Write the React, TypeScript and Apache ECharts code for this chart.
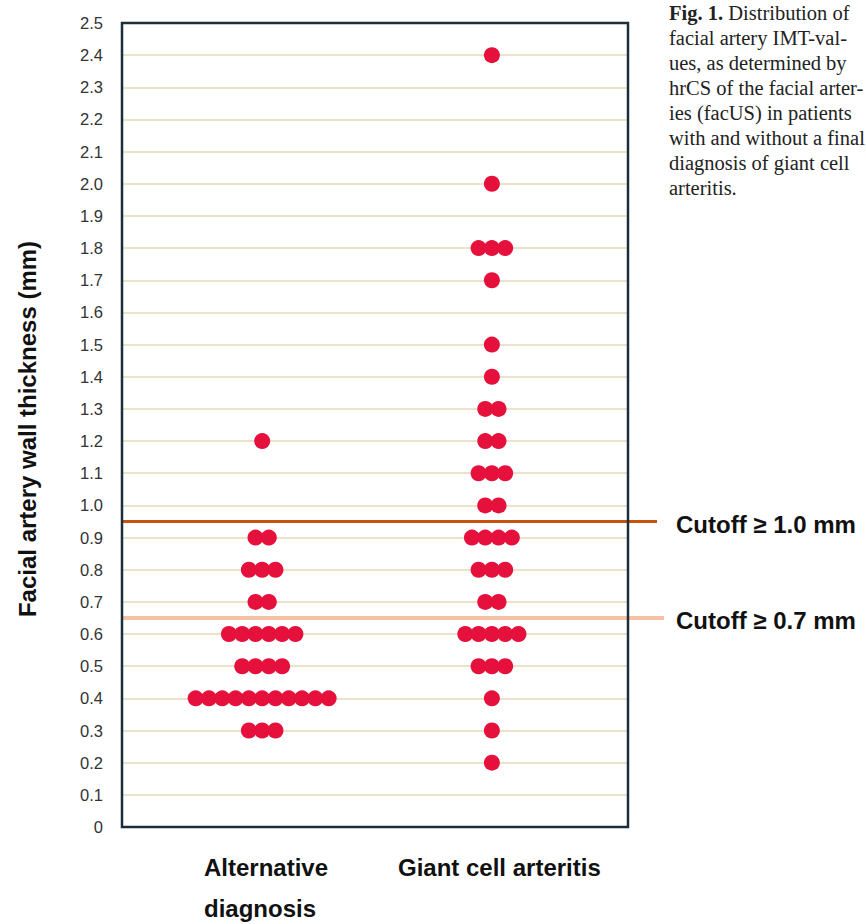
import React, { useEffect, useRef } from 'react';
import * as echarts from 'echarts';

// ---- data ----
const categories = ['Alternative\ndiagnosis', 'Giant cell arteritis'];
const alternativeLevels = [1.2, 0.9, 0.8, 0.7, 0.6, 0.5, 0.4, 0.3];
const alternativeCounts = [1, 2, 3, 2, 6, 4, 11, 3];
const gcaLevels = [2.4, 2.0, 1.8, 1.7, 1.5, 1.4, 1.3, 1.2, 1.1, 1.0, 0.9, 0.8, 0.7, 0.6, 0.5, 0.4, 0.3, 0.2];
const gcaCounts = [1, 1, 3, 1, 1, 1, 2, 2, 3, 2, 4, 3, 2, 5, 3, 1, 1, 1];
const cutoffValues = [0.95, 0.65];
const cutoffLabels = ['Cutoff ≥ 1.0 mm', 'Cutoff ≥ 0.7 mm'];
const yAxisTitle = 'Facial artery wall thickness (mm)';
const captionLines = [
  'Distribution of',
  'facial artery IMT-val-',
  'ues, as determined by',
  'hrCS of the facial arter-',
  'ies (facUS) in patients',
  'with and without a final',
  'diagnosis of giant cell',
  'arteritis.',
];

// ---- layout (not data) ----
const GRID = { left: 122, right: 238, top: 23, bottom: 97 };
const groupCenters = [0.277, 0.731]; // on hidden 0..1 x axis
const dotStep = 13.3 / 506; // horizontal spacing of stacked dots
const DOT = '#e5103b';
const SANS = '"Liberation Sans", Arial, sans-serif';
const SERIF = '"Liberation Serif", "Times New Roman", serif';

function swarm(levels: number[], counts: number[], center: number) {
  const pts: number[][] = [];
  levels.forEach((v, k) => {
    const n = counts[k];
    for (let i = 0; i < n; i++) {
      pts.push([center + (i - (n - 1) / 2) * dotStep, v]);
    }
  });
  return pts;
}

export default function App() {
  const ref = useRef<HTMLDivElement>(null);
  useEffect(() => {
    document.body.style.margin = '0';
    const chart = echarts.init(ref.current!, null, { renderer: 'svg' });
    const option: any = {
      animation: false,
      backgroundColor: '#ffffff',
      grid: { ...GRID, show: false },
      xAxis: { type: 'value', min: 0, max: 1, show: false },
      yAxis: {
        type: 'value',
        min: 0,
        max: 2.5,
        interval: 0.1,
        axisLine: { show: false },
        axisTick: { show: false },
        axisLabel: {
          margin: 19,
          color: '#333333',
          fontSize: 16.5,
          fontFamily: SANS,
          formatter: (v: number) => (v === 0 ? '0' : v.toFixed(1)),
        },
        splitLine: { show: true, lineStyle: { color: '#ebe2c9', width: 2 } },
      },
      series: [
        {
          type: 'scatter',
          name: categories[0].replace('\n', ' '),
          data: swarm(alternativeLevels, alternativeCounts, groupCenters[0]),
          symbolSize: 16,
          itemStyle: { color: DOT, opacity: 1 },
          z: 5,
        },
        {
          type: 'scatter',
          name: categories[1],
          data: swarm(gcaLevels, gcaCounts, groupCenters[1]),
          symbolSize: 16,
          itemStyle: { color: DOT, opacity: 1 },
          z: 5,
        },
      ],
    };
    chart.setOption(option);

    const graphics: any[] = [];
    // plot frame
    const [x0, yTop] = chart.convertToPixel({ gridIndex: 0 }, [0, 2.5]) as number[];
    const [x1, yBot] = chart.convertToPixel({ gridIndex: 0 }, [1, 0]) as number[];
    graphics.push({
      type: 'rect',
      shape: { x: x0, y: yTop, width: x1 - x0, height: yBot - yTop },
      style: { fill: 'none', stroke: '#1c2e3b', lineWidth: 2.5 },
      z: 10,
    });

    const cutoffColors = ['#c9520e', '#f6c2a6'];
    const cutoffWidths = [3, 4];
    const cutoffEnds = [657, 664];
    cutoffValues.forEach((v, i) => {
      const y = chart.convertToPixel({ yAxisIndex: 0 }, v) as number;
      graphics.push({
        type: 'line',
        shape: { x1: x0, y1: y, x2: cutoffEnds[i], y2: y },
        style: { stroke: cutoffColors[i], lineWidth: cutoffWidths[i] },
        z: 3,
      });
      graphics.push({
        type: 'text',
        x: 676,
        y: y + 3,
        style: {
          text: cutoffLabels[i],
          fill: '#111111',
          font: `bold 24px ${SANS}`,
          textVerticalAlign: 'middle',
        },
      });
    });
    // category labels
    const altLines = categories[0].split('\n');
    altLines.forEach((t, i) => {
      graphics.push({
        type: 'text',
        x: 204,
        y: 867 + i * 41,
        style: {
          text: t,
          fill: '#111111',
          font: `bold 24px ${SANS}`,
          textVerticalAlign: 'middle',
        },
      });
    });
    graphics.push({
      type: 'text',
      x: 398,
      y: 867,
      style: {
        text: categories[1],
        fill: '#111111',
        font: `bold 24px ${SANS}`,
        textVerticalAlign: 'middle',
      },
    });
    // y axis title
    graphics.push({
      type: 'text',
      x: 27,
      y: 429,
      rotation: Math.PI / 2,
      style: {
        text: yAxisTitle,
        fill: '#111111',
        font: `bold 24px ${SANS}`,
        textAlign: 'center',
        textVerticalAlign: 'middle',
      },
    });
    // caption
    captionLines.forEach((line, i) => {
      graphics.push({
        type: 'text',
        x: 669,
        y: 13 + i * 25,
        style: {
          text: i === 0 ? '{b|Fig. 1.} ' + line : line,
          fill: '#222222',
          font: `20.5px ${SERIF}`,
          textVerticalAlign: 'middle',
          rich: {
            b: { font: `bold 20.5px ${SERIF}`, fill: '#222222' },
          },
        },
      });
    });
    chart.setOption({ graphic: graphics });
    return () => chart.dispose();
  }, []);
  return <div ref={ref} style={{ width: 866, height: 924 }} />;
}
